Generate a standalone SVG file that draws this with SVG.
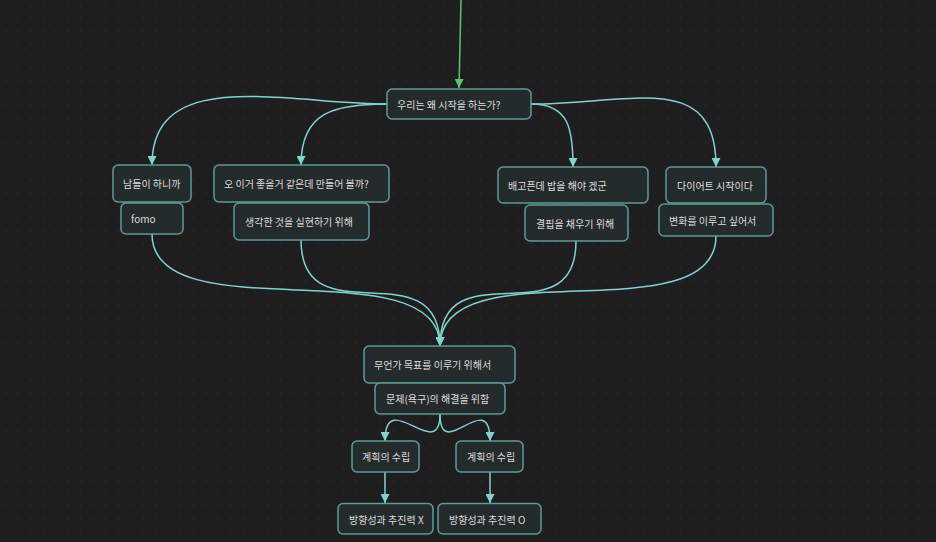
<svg xmlns="http://www.w3.org/2000/svg" width="936" height="542" viewBox="0 0 936 542">
<defs>
<pattern id="grid" x="0" y="0" width="12.5" height="12.5" patternUnits="userSpaceOnUse">
<rect x="5" y="5" width="1.4" height="1.4" fill="#2d2d2d"/>
</pattern>
<marker id="arr" viewBox="0 0 10 10" refX="10" refY="5" markerWidth="9" markerHeight="9" markerUnits="userSpaceOnUse" orient="auto">
<path d="M0,0 L10,5 L0,10 Z" fill="#7fd4d1"/>
</marker>
<marker id="arrg" viewBox="0 0 10 10" refX="10" refY="5" markerWidth="9" markerHeight="9" markerUnits="userSpaceOnUse" orient="auto">
<path d="M0,0 L10,5 L0,10 Z" fill="#5fc46c"/>
</marker>
</defs>
<style>
.n rect{fill:#242b2b;stroke:#5b9c99;stroke-width:1.5}
.n text{fill:#dedede;font-family:"Noto Sans CJK KR","Noto Sans",sans-serif;font-size:10px;dominant-baseline:central}
.e path{fill:none;stroke:#7fd4d1;stroke-width:1.5;marker-end:url(#arr)}
.e path.g{stroke:#5fc46c;marker-end:url(#arrg)}
</style>
<rect width="936" height="542" fill="#1e1e1e"/>
<rect width="936" height="542" fill="url(#grid)"/>
<g id="edges" class="e">
<path class="g" d="M461,0 L459,88"/>
<path d="M387,104 C287,104 152,65 152,165"/>
<path d="M387,104 C334,104 301,112 301,165"/>
<path d="M531,104 C569,104 573,129 573,167"/>
<path d="M531,104 C631,104 716,69 716,167"/>
<path d="M152,234 C152,334 440,246 440,346"/>
<path d="M301,240 C301,340 440,246 440,346"/>
<path d="M576,241 C576,341 440,246 440,346"/>
<path d="M716,236 C716,336 440,246 440,346"/>
<path d="M440,414 C440,465 385,385 385,441"/>
<path d="M440,414 C440,465 490,385 490,441"/>
<path d="M385,472 L385,503"/>
<path d="M490,472 L490,503"/>
</g>
<g id="n-why" class="n"><rect x="387" y="89" width="144" height="30" rx="5"/><text x="397" y="104">우리는 왜 시작을 하는가?</text></g>
<g id="n-others" class="n"><rect x="113" y="165" width="78" height="37" rx="5"/><text x="123" y="183.5">남들이 하니까</text></g>
<g id="n-fomo" class="n"><rect x="121" y="203" width="62" height="31" rx="5"/><text x="131" y="218.5">fomo</text></g>
<g id="n-idea" class="n"><rect x="214" y="165" width="175" height="37" rx="5"/><text x="224" y="183.5">오 이거 좋을거 같은데 만들어 볼까?</text></g>
<g id="n-realize" class="n"><rect x="234" y="203" width="135" height="37" rx="5"/><text x="245" y="221.5">생각한 것을 실현하기 위해</text></g>
<g id="n-hungry" class="n"><rect x="498" y="167" width="150" height="36" rx="5"/><text x="508" y="185">배고픈데 밥을 해야 겠군</text></g>
<g id="n-lack" class="n"><rect x="525" y="205" width="103" height="36" rx="5"/><text x="536" y="223">결핍을 채우기 위해</text></g>
<g id="n-diet" class="n"><rect x="666" y="167" width="100" height="36" rx="5"/><text x="677" y="185">다이어트 시작이다</text></g>
<g id="n-change" class="n"><rect x="659" y="204" width="114" height="32" rx="5"/><text x="669" y="220">변화를 이루고 싶어서</text></g>
<g id="n-goal" class="n"><rect x="364" y="346" width="151" height="37" rx="5"/><text x="374" y="364.5">무언가 목표를 이루기 위해서</text></g>
<g id="n-problem" class="n"><rect x="375" y="383" width="130" height="31" rx="5"/><text x="386" y="398.5">문제(욕구)의 해결을 위함</text></g>
<g id="n-plan1" class="n"><rect x="352" y="441" width="67" height="31" rx="5"/><text x="362" y="456.5">계획의 수립</text></g>
<g id="n-plan2" class="n"><rect x="456" y="441" width="67" height="31" rx="5"/><text x="467" y="456.5">계획의 수립</text></g>
<g id="n-dirX" class="n"><rect x="338" y="503.5" width="95" height="30.5" rx="5"/><text x="349" y="519">방향성과 추진력 X</text></g>
<g id="n-dirO" class="n"><rect x="438" y="503.5" width="103" height="30.5" rx="5"/><text x="449" y="519">방향성과 추진력 O</text></g>
</svg>
